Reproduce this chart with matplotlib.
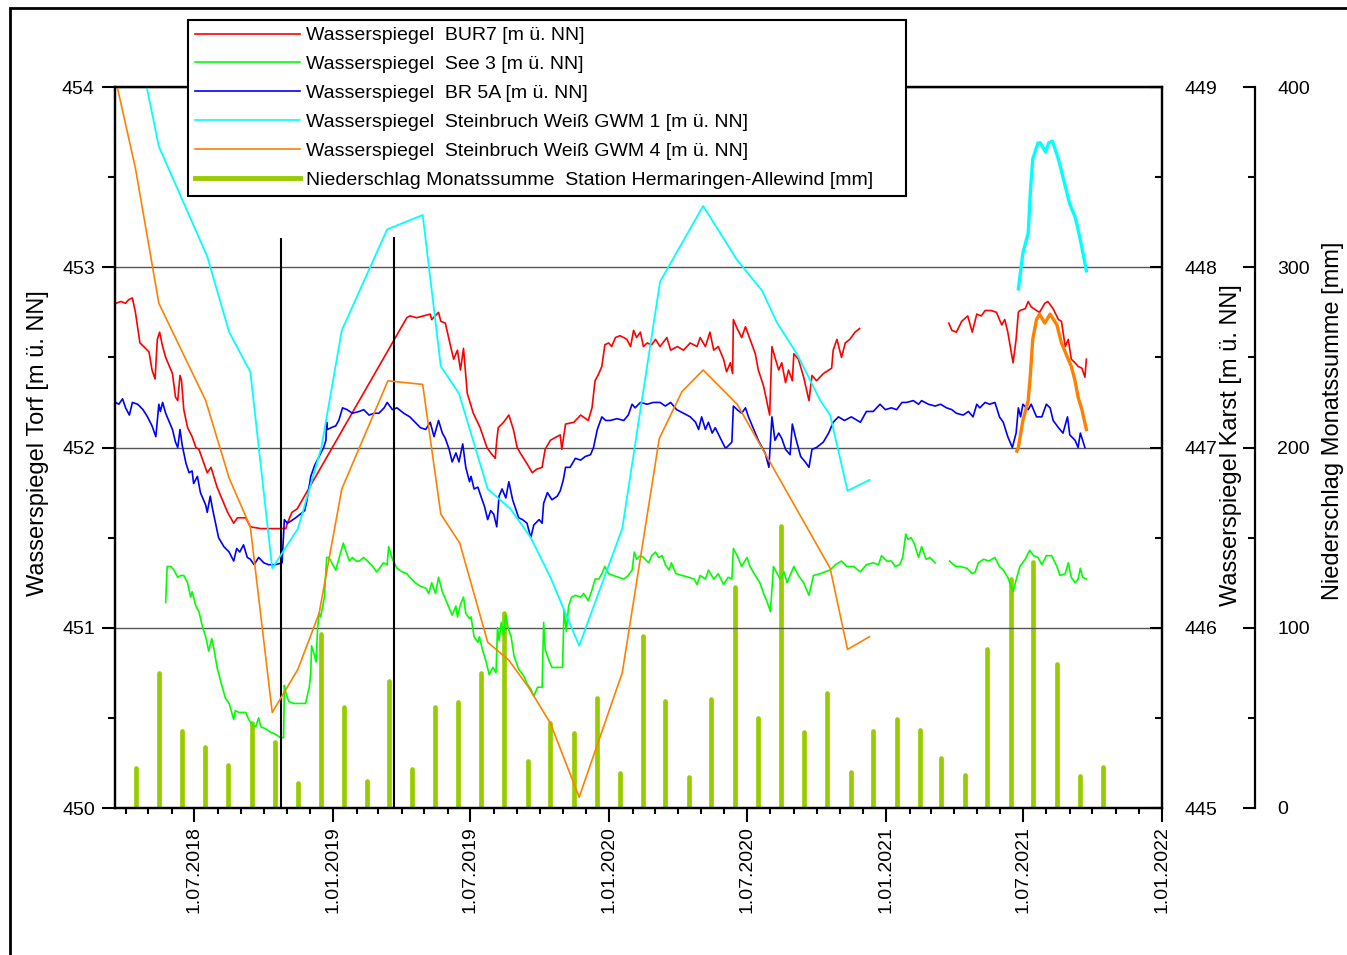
import numpy as np
import pandas as pd
import matplotlib
matplotlib.use("Agg")
import matplotlib.pyplot as plt
import matplotlib.dates as mdates
from matplotlib.lines import Line2D
from matplotlib.patches import Rectangle
from matplotlib.ticker import MultipleLocator, FuncFormatter

plt.rcParams['font.family'] = ['Liberation Sans', 'DejaVu Sans']

# ---------------- data ----------------
bur7 = [('2018-03-19',452.80),('2018-03-26',452.81),('2018-04-01',452.80),('2018-04-05',452.82),('2018-04-10',452.83),
 ('2018-04-14',452.75),('2018-04-20',452.58),('2018-04-25',452.56),('2018-05-02',452.53),('2018-05-06',452.43),
 ('2018-05-10',452.38),('2018-05-13',452.60),('2018-05-16',452.64),('2018-05-20',452.56),('2018-05-24',452.50),
 ('2018-05-29',452.45),('2018-06-02',452.41),('2018-06-06',452.28),('2018-06-09',452.26),('2018-06-12',452.40),
 ('2018-06-14',452.37),('2018-06-17',452.21),('2018-06-22',452.11),('2018-06-28',452.06),('2018-07-03',452.00),
 ('2018-07-07',451.99),('2018-07-18',451.86),('2018-07-23',451.89),('2018-07-31',451.78),('2018-08-09',451.69),
 ('2018-08-14',451.64),('2018-08-22',451.58),('2018-08-27',451.61),('2018-09-07',451.61),('2018-09-13',451.56),
 ('2018-09-27',451.55),('2018-10-10',451.55),('2018-10-23',451.55),('2018-10-30',451.55),('2018-11-01',451.58),
 ('2018-11-07',451.64),('2018-11-14',451.66),
 ('2019-04-08',452.72),('2019-04-12',452.73),('2019-04-21',452.72),('2019-04-30',452.73),('2019-05-09',452.74),
 ('2019-05-11',452.71),('2019-05-20',452.75),('2019-05-23',452.70),('2019-05-29',452.69),('2019-06-05',452.56),
 ('2019-06-09',452.49),('2019-06-14',452.54),('2019-06-18',452.43),('2019-06-22',452.55),('2019-06-27',452.30),
 ('2019-07-05',452.19),('2019-07-14',452.11),('2019-07-23',452.00),('2019-07-28',451.97),('2019-08-03',451.94),
 ('2019-08-05',452.04),('2019-08-07',452.11),('2019-08-14',452.14),('2019-08-21',452.18),('2019-08-27',452.10),
 ('2019-09-01',452.00),('2019-09-05',451.97),('2019-09-14',451.91),('2019-09-21',451.86),('2019-09-27',451.88),
 ('2019-10-04',451.89),('2019-10-08',451.99),('2019-10-15',452.04),('2019-10-19',452.05),('2019-10-28',452.07),
 ('2019-10-30',451.99),('2019-11-04',452.13),('2019-11-15',452.14),('2019-11-24',452.18),('2019-12-04',452.15),
 ('2019-12-09',452.22),('2019-12-13',452.37),('2019-12-18',452.41),('2019-12-22',452.45),('2019-12-26',452.57),
 ('2019-12-31',452.58),('2020-01-04',452.56),('2020-01-09',452.61),('2020-01-15',452.62),('2020-01-20',452.61),
 ('2020-01-24',452.60),('2020-01-29',452.56),('2020-02-02',452.65),('2020-02-06',452.61),('2020-02-11',452.64),
 ('2020-02-15',452.56),('2020-02-20',452.58),('2020-02-26',452.57),('2020-03-02',452.60),('2020-03-08',452.56),
 ('2020-03-17',452.61),('2020-03-22',452.54),('2020-03-31',452.56),('2020-04-08',452.54),('2020-04-17',452.58),
 ('2020-04-26',452.56),('2020-04-30',452.61),('2020-05-07',452.56),('2020-05-13',452.64),('2020-05-18',452.54),
 ('2020-05-24',452.56),('2020-05-31',452.49),('2020-06-04',452.42),('2020-06-09',452.47),('2020-06-12',452.41),
 ('2020-06-13',452.71),('2020-06-18',452.66),('2020-06-24',452.61),('2020-06-29',452.67),('2020-07-05',452.60),
 ('2020-07-12',452.52),('2020-07-16',452.43),('2020-07-23',452.34),('2020-07-27',452.26),('2020-07-31',452.18),
 ('2020-08-03',452.56),('2020-08-07',452.50),('2020-08-12',452.43),('2020-08-16',452.47),('2020-08-21',452.36),
 ('2020-08-25',452.43),('2020-08-30',452.37),('2020-09-01',452.52),('2020-09-07',452.49),('2020-09-14',452.39),
 ('2020-09-21',452.26),('2020-09-25',452.40),('2020-10-01',452.37),('2020-10-10',452.41),('2020-10-21',452.44),
 ('2020-10-23',452.54),('2020-10-28',452.60),('2020-11-03',452.50),('2020-11-08',452.58),('2020-11-14',452.60),
 ('2020-11-21',452.64),('2020-11-27',452.66),
 ('2021-01-15',None),
 ('2021-03-25',452.69),('2021-03-29',452.65),('2021-04-04',452.64),('2021-04-11',452.70),('2021-04-19',452.73),
 ('2021-04-25',452.64),('2021-05-01',452.74),('2021-05-07',452.73),('2021-05-12',452.76),('2021-05-20',452.76),
 ('2021-05-27',452.75),('2021-06-03',452.68),('2021-06-07',452.71),('2021-06-11',452.64),('2021-06-16',452.52),
 ('2021-06-18',452.47),('2021-06-22',452.60),('2021-06-25',452.75),('2021-06-27',452.76),('2021-07-04',452.77),
 ('2021-07-08',452.81),('2021-07-12',452.78),('2021-07-19',452.76),('2021-07-23',452.75),('2021-07-30',452.80),
 ('2021-08-03',452.81),('2021-08-10',452.77),('2021-08-17',452.71),('2021-08-21',452.70),('2021-08-26',452.56),
 ('2021-08-30',452.60),('2021-09-03',452.49),('2021-09-08',452.47),('2021-09-12',452.45),('2021-09-17',452.44),
 ('2021-09-21',452.39),('2021-09-23',452.49)]

see3 = [('2018-05-24',451.14),('2018-05-26',451.34),('2018-05-31',451.34),('2018-06-04',451.32),('2018-06-09',451.28),
 ('2018-06-13',451.29),('2018-06-17',451.29),('2018-06-22',451.25),('2018-06-26',451.17),('2018-06-28',451.20),
 ('2018-07-03',451.12),('2018-07-07',451.09),('2018-07-12',451.00),('2018-07-16',450.95),('2018-07-20',450.87),
 ('2018-07-24',450.94),('2018-07-27',450.88),('2018-07-31',450.78),('2018-08-05',450.70),('2018-08-11',450.61),
 ('2018-08-16',450.58),('2018-08-20',450.52),('2018-08-22',450.49),('2018-08-24',450.54),('2018-08-29',450.53),
 ('2018-09-02',450.53),('2018-09-07',450.53),('2018-09-11',450.49),('2018-09-16',450.46),('2018-09-20',450.45),
 ('2018-09-24',450.50),('2018-09-27',450.45),('2018-10-03',450.44),('2018-10-10',450.42),('2018-10-16',450.41),
 ('2018-10-23',450.39),('2018-10-27',450.39),('2018-10-28',450.68),('2018-10-30',450.64),('2018-11-03',450.59),
 ('2018-11-10',450.58),('2018-11-19',450.58),('2018-11-25',450.58),('2018-11-30',450.67),('2018-12-02',450.75),
 ('2018-12-03',450.90),('2018-12-06',450.86),('2018-12-09',450.81),('2018-12-11',451.00),('2018-12-13',451.08),
 ('2018-12-15',451.06),('2018-12-20',451.17),('2018-12-23',451.39),('2018-12-26',451.39),('2018-12-31',451.35),
 ('2019-01-04',451.32),('2019-01-08',451.38),('2019-01-14',451.47),('2019-01-17',451.43),('2019-01-22',451.37),
 ('2019-01-26',451.39),('2019-01-31',451.37),('2019-02-04',451.37),('2019-02-10',451.39),('2019-02-15',451.37),
 ('2019-02-22',451.34),('2019-02-27',451.31),('2019-03-03',451.33),('2019-03-08',451.36),('2019-03-13',451.35),
 ('2019-03-15',451.45),('2019-03-20',451.38),('2019-03-26',451.33),('2019-04-02',451.31),('2019-04-08',451.30),
 ('2019-04-12',451.28),('2019-04-19',451.25),('2019-04-26',451.23),('2019-05-03',451.22),('2019-05-07',451.19),
 ('2019-05-11',451.25),('2019-05-16',451.19),('2019-05-20',451.28),('2019-05-25',451.20),('2019-05-31',451.14),
 ('2019-06-07',451.07),('2019-06-12',451.12),('2019-06-14',451.06),('2019-06-18',451.13),('2019-06-22',451.17),
 ('2019-06-25',451.08),('2019-06-30',451.05),('2019-07-02',451.06),('2019-07-06',450.95),('2019-07-11',450.92),
 ('2019-07-13',450.95),('2019-07-17',450.88),('2019-07-22',450.81),('2019-07-26',450.74),('2019-07-31',450.78),
 ('2019-08-04',450.75),('2019-08-06',451.00),('2019-08-08',450.93),('2019-08-11',451.03),('2019-08-14',450.96),
 ('2019-08-17',451.07),('2019-08-20',451.00),('2019-08-24',450.95),('2019-08-28',450.84),('2019-09-03',450.77),
 ('2019-09-10',450.73),('2019-09-14',450.69),('2019-09-19',450.66),('2019-09-23',450.62),('2019-09-28',450.67),
 ('2019-10-04',450.67),('2019-10-06',451.03),('2019-10-08',450.88),('2019-10-13',450.82),('2019-10-17',450.78),
 ('2019-10-22',450.78),('2019-10-26',450.78),('2019-10-31',450.78),('2019-11-02',451.10),('2019-11-05',450.98),
 ('2019-11-08',451.12),('2019-11-12',451.17),('2019-11-17',451.18),('2019-11-24',451.17),('2019-11-28',451.19),
 ('2019-12-04',451.15),('2019-12-09',451.21),('2019-12-13',451.27),('2019-12-18',451.27),('2019-12-22',451.30),
 ('2019-12-26',451.34),('2019-12-31',451.30),('2020-01-06',451.29),('2020-01-13',451.28),('2020-01-20',451.27),
 ('2020-01-26',451.29),('2020-01-31',451.32),('2020-02-03',451.42),('2020-02-06',451.38),('2020-02-11',451.40),
 ('2020-02-15',451.39),('2020-02-22',451.36),('2020-02-26',451.40),('2020-03-02',451.42),('2020-03-06',451.39),
 ('2020-03-11',451.40),('2020-03-15',451.35),('2020-03-20',451.32),('2020-03-23',451.36),('2020-03-29',451.30),
 ('2020-04-06',451.29),('2020-04-15',451.28),('2020-04-22',451.27),('2020-04-26',451.24),('2020-04-30',451.29),
 ('2020-05-07',451.27),('2020-05-11',451.32),('2020-05-18',451.27),('2020-05-24',451.30),('2020-05-31',451.24),
 ('2020-06-06',451.28),('2020-06-11',451.27),('2020-06-13',451.44),('2020-06-18',451.40),('2020-06-24',451.34),
 ('2020-07-01',451.39),('2020-07-05',451.34),('2020-07-12',451.29),('2020-07-18',451.25),('2020-07-23',451.19),
 ('2020-07-27',451.15),('2020-08-01',451.09),('2020-08-05',451.34),('2020-08-10',451.30),('2020-08-14',451.27),
 ('2020-08-19',451.31),('2020-08-23',451.25),('2020-09-01',451.34),('2020-09-07',451.29),('2020-09-14',451.25),
 ('2020-09-21',451.18),('2020-09-27',451.29),('2020-10-06',451.30),('2020-10-12',451.31),('2020-10-19',451.32),
 ('2020-10-26',451.35),('2020-11-03',451.37),('2020-11-10',451.34),('2020-11-19',451.34),('2020-11-28',451.31),
 ('2020-12-06',451.35),('2020-12-15',451.36),('2020-12-22',451.35),('2020-12-26',451.40),('2021-01-02',451.37),
 ('2021-01-08',451.37),('2021-01-13',451.34),('2021-01-19',451.35),('2021-01-23',451.39),('2021-01-27',451.52),
 ('2021-01-30',451.49),('2021-02-03',451.50),('2021-02-07',451.47),('2021-02-13',451.39),('2021-02-17',451.45),
 ('2021-02-23',451.38),('2021-02-28',451.39),('2021-03-07',451.36),
 ('2021-03-16',None),
 ('2021-03-26',451.37),('2021-04-03',451.34),('2021-04-09',451.34),('2021-04-18',451.33),('2021-04-25',451.30),
 ('2021-04-29',451.31),('2021-05-03',451.36),('2021-05-10',451.38),('2021-05-17',451.37),('2021-05-25',451.39),
 ('2021-05-31',451.34),('2021-06-05',451.32),('2021-06-11',451.28),('2021-06-18',451.20),('2021-06-23',451.28),
 ('2021-06-27',451.34),('2021-07-04',451.38),('2021-07-10',451.43),('2021-07-15',451.40),('2021-07-21',451.39),
 ('2021-07-26',451.35),('2021-08-01',451.40),('2021-08-08',451.40),('2021-08-15',451.34),('2021-08-19',451.29),
 ('2021-08-26',451.30),('2021-08-30',451.36),('2021-09-03',451.28),('2021-09-08',451.25),('2021-09-12',451.27),
 ('2021-09-15',451.33),('2021-09-18',451.28),('2021-09-23',451.27)]

br5a = [('2018-03-19',452.25),('2018-03-23',452.24),('2018-03-28',452.27),('2018-04-01',452.22),('2018-04-06',452.18),
 ('2018-04-10',452.25),('2018-04-17',452.24),('2018-04-24',452.21),('2018-04-30',452.17),('2018-05-06',452.12),
 ('2018-05-11',452.06),('2018-05-15',452.24),('2018-05-17',452.20),('2018-05-20',452.25),('2018-05-24',452.19),
 ('2018-05-29',452.14),('2018-06-02',452.10),('2018-06-06',452.03),('2018-06-09',452.00),('2018-06-12',452.10),
 ('2018-06-15',452.01),('2018-06-20',451.91),('2018-06-24',451.86),('2018-06-28',451.87),('2018-06-30',451.80),
 ('2018-07-05',451.84),('2018-07-09',451.75),('2018-07-16',451.68),('2018-07-18',451.64),('2018-07-22',451.73),
 ('2018-07-25',451.66),('2018-07-29',451.58),('2018-08-02',451.50),('2018-08-09',451.45),('2018-08-16',451.42),
 ('2018-08-22',451.37),('2018-08-26',451.44),('2018-08-30',451.42),('2018-09-04',451.46),('2018-09-09',451.39),
 ('2018-09-13',451.38),('2018-09-18',451.35),('2018-09-24',451.39),('2018-10-01',451.36),('2018-10-07',451.35),
 ('2018-10-16',451.35),('2018-10-25',451.36),('2018-10-28',451.60),('2018-11-01',451.58),('2018-11-05',451.59),
 ('2018-11-12',451.61),('2018-11-18',451.63),('2018-11-24',451.65),('2018-11-27',451.71),('2018-12-02',451.84),
 ('2018-12-07',451.90),('2018-12-13',451.95),('2018-12-19',452.00),('2018-12-22',452.04),('2018-12-23',452.14),
 ('2018-12-24',452.10),('2018-12-29',452.11),('2019-01-04',452.12),('2019-01-08',452.15),('2019-01-13',452.22),
 ('2019-01-19',452.21),('2019-01-26',452.19),('2019-02-04',452.20),('2019-02-10',452.21),('2019-02-17',452.18),
 ('2019-02-24',452.19),('2019-03-02',452.19),('2019-03-09',452.22),('2019-03-13',452.25),('2019-03-20',452.21),
 ('2019-03-26',452.22),('2019-04-04',452.19),('2019-04-12',452.17),('2019-04-19',452.14),('2019-04-26',452.11),
 ('2019-05-03',452.10),('2019-05-09',452.14),('2019-05-14',452.06),('2019-05-20',452.15),('2019-05-25',452.08),
 ('2019-05-29',452.05),('2019-06-03',451.99),('2019-06-07',451.92),('2019-06-12',451.97),('2019-06-16',451.92),
 ('2019-06-21',452.02),('2019-06-25',451.89),('2019-06-30',451.81),('2019-07-02',451.84),('2019-07-06',451.77),
 ('2019-07-11',451.78),('2019-07-15',451.73),('2019-07-20',451.67),('2019-07-24',451.60),('2019-07-28',451.65),
 ('2019-08-01',451.63),('2019-08-05',451.56),('2019-08-08',451.73),('2019-08-12',451.77),('2019-08-17',451.72),
 ('2019-08-21',451.81),('2019-08-26',451.71),('2019-08-30',451.66),('2019-09-03',451.61),('2019-09-08',451.60),
 ('2019-09-14',451.58),('2019-09-19',451.50),('2019-09-23',451.57),('2019-09-30',451.60),('2019-10-04',451.58),
 ('2019-10-06',451.69),('2019-10-11',451.75),('2019-10-17',451.71),('2019-10-24',451.73),('2019-10-28',451.76),
 ('2019-11-01',451.82),('2019-11-04',451.89),('2019-11-10',451.89),('2019-11-17',451.94),('2019-11-24',451.93),
 ('2019-11-30',451.95),('2019-12-07',451.96),('2019-12-11',452.00),('2019-12-16',452.10),('2019-12-22',452.17),
 ('2019-12-27',452.15),('2020-01-02',452.15),('2020-01-11',452.16),('2020-01-20',452.15),('2020-01-26',452.18),
 ('2020-01-31',452.24),('2020-02-04',452.22),('2020-02-11',452.25),('2020-02-20',452.24),('2020-02-28',452.25),
 ('2020-03-08',452.25),('2020-03-15',452.23),('2020-03-22',452.25),('2020-03-30',452.21),('2020-04-08',452.19),
 ('2020-04-17',452.17),('2020-04-24',452.14),('2020-04-28',452.10),('2020-05-02',452.17),('2020-05-07',452.10),
 ('2020-05-11',452.14),('2020-05-16',452.08),('2020-05-20',452.11),('2020-05-27',452.05),('2020-06-02',452.00),
 ('2020-06-04',452.00),('2020-06-11',452.03),('2020-06-13',452.23),('2020-06-18',452.21),('2020-06-24',452.19),
 ('2020-06-29',452.22),('2020-07-03',452.17),('2020-07-10',452.10),('2020-07-16',452.04),('2020-07-21',452.00),
 ('2020-07-25',451.97),('2020-07-30',451.89),('2020-08-03',452.17),('2020-08-07',452.04),('2020-08-12',452.08),
 ('2020-08-16',452.05),('2020-08-21',451.99),('2020-08-27',451.96),('2020-08-30',452.13),('2020-09-03',452.06),
 ('2020-09-10',451.95),('2020-09-16',451.92),('2020-09-21',451.89),('2020-09-25',451.99),('2020-10-01',452.00),
 ('2020-10-10',452.03),('2020-10-17',452.08),('2020-10-23',452.14),('2020-10-30',452.17),('2020-11-07',452.15),
 ('2020-11-16',452.17),('2020-11-28',452.14),('2020-12-06',452.20),('2020-12-15',452.20),('2020-12-24',452.24),
 ('2020-12-31',452.21),('2021-01-08',452.22),('2021-01-15',452.21),('2021-01-22',452.25),('2021-01-28',452.25),
 ('2021-02-06',452.26),('2021-02-13',452.24),('2021-02-17',452.26),('2021-02-26',452.24),('2021-03-07',452.23),
 ('2021-03-14',452.24),('2021-03-22',452.22),('2021-03-29',452.21),('2021-04-04',452.19),('2021-04-13',452.18),
 ('2021-04-20',452.20),('2021-04-26',452.17),('2021-05-01',452.24),('2021-05-05',452.22),('2021-05-12',452.25),
 ('2021-05-18',452.24),('2021-05-25',452.25),('2021-05-31',452.17),('2021-06-05',452.14),('2021-06-11',452.06),
 ('2021-06-17',452.00),('2021-06-22',452.08),('2021-06-25',452.22),('2021-06-28',452.17),('2021-07-01',452.24),
 ('2021-07-08',452.21),('2021-07-12',452.24),('2021-07-19',452.17),('2021-07-26',452.17),('2021-08-01',452.24),
 ('2021-08-06',452.22),('2021-08-10',452.15),('2021-08-17',452.11),('2021-08-23',452.08),('2021-08-29',452.17),
 ('2021-09-01',452.07),('2021-09-08',452.04),('2021-09-12',452.00),('2021-09-15',452.08),('2021-09-21',452.00)]

gwm1 = [('2018-04-29',449.00),('2018-05-15',448.67),('2018-07-18',448.06),('2018-08-16',447.64),('2018-09-13',447.42),
 ('2018-10-12',446.33),('2018-11-15',446.55),('2018-12-16',447.00),('2019-01-12',447.65),('2019-03-13',448.21),
 ('2019-04-29',448.29),('2019-05-23',447.45),('2019-06-16',447.30),('2019-07-24',446.77),('2019-08-23',446.66),
 ('2019-09-19',446.50),('2019-10-15',446.28),('2019-11-22',445.90),('2020-01-18',446.55),('2020-03-08',447.92),
 ('2020-05-04',448.34),('2020-06-18',448.04),('2020-07-21',447.87),('2020-08-10',447.69),('2020-09-05',447.52),
 ('2020-10-06',447.26),('2020-10-19',447.18),('2020-11-11',446.76),('2020-12-10',446.82)]

gwm1_2021 = [('2021-06-25',447.88),('2021-07-01',448.08),('2021-07-08',448.19),('2021-07-11',448.43),('2021-07-14',448.60),
 ('2021-07-21',448.69),('2021-07-24',448.69),('2021-07-31',448.64),('2021-08-04',448.69),('2021-08-09',448.70),
 ('2021-08-17',448.60),('2021-08-26',448.45),('2021-09-01',448.35),('2021-09-08',448.28),('2021-09-12',448.21),
 ('2021-09-17',448.11),('2021-09-23',447.98)]

gwm4 = [('2018-03-21',449.00),('2018-04-14',448.55),('2018-05-15',447.80),('2018-07-16',447.26),('2018-08-16',446.83),
 ('2018-09-13',446.56),('2018-10-12',445.53),('2018-11-15',445.77),('2018-12-13',446.08),('2019-01-12',446.77),
 ('2019-03-14',447.37),('2019-04-29',447.35),('2019-05-23',446.63),('2019-06-17',446.47),('2019-07-24',445.92),
 ('2019-08-21',445.82),('2019-09-16',445.67),('2019-10-15',445.47),('2019-11-22',445.06),('2020-01-18',445.75),
 ('2020-03-07',447.05),('2020-04-06',447.31),('2020-05-04',447.43),('2020-06-18',447.24),('2020-10-19',446.33),
 ('2020-11-11',445.88),('2020-12-10',445.95)]

gwm4_2021 = [('2021-06-23',446.98),('2021-06-25',447.00),('2021-07-01',447.15),('2021-07-08',447.26),('2021-07-11',447.41),
 ('2021-07-14',447.60),('2021-07-19',447.71),('2021-07-23',447.74),('2021-07-30',447.69),('2021-08-06',447.74),
 ('2021-08-15',447.68),('2021-08-21',447.58),('2021-08-28',447.51),('2021-09-03',447.45),('2021-09-08',447.37),
 ('2021-09-12',447.28),('2021-09-17',447.21),('2021-09-23',447.10)]

precip_months = pd.date_range('2018-04-01', periods=43, freq='MS') + pd.Timedelta(days=14)
precip_mm = [22.0, 74.7, 42.9, 34.0, 23.9, 47.0, 36.8, 14.0, 96.4,
             56.2, 15.0, 70.5, 21.5, 55.9, 59.0, 74.7, 108.0, 26.3, 47.3, 41.4, 61.2,
             19.2, 95.6, 59.4, 17.0, 60.5, 122.4, 49.8, 156.6, 42.3, 63.6, 20.0, 42.7,
             49.6, 43.1, 27.6, 18.3, 88.0, 126.9, 136.3, 79.9, 17.8, 22.9]

marker_dates = ['2018-10-23', '2019-03-22']
marker_top = [453.16, 453.17]

labels = ['Wasserspiegel  BUR7 [m ü. NN]',
          'Wasserspiegel  See 3 [m ü. NN]',
          'Wasserspiegel  BR 5A [m ü. NN]',
          'Wasserspiegel  Steinbruch Weiß GWM 1 [m ü. NN]',
          'Wasserspiegel  Steinbruch Weiß GWM 4 [m ü. NN]',
          'Niederschlag Monatssumme  Station Hermaringen-Allewind [mm]']


def series(pairs):
    d = pd.to_datetime([p[0] for p in pairs])
    v = np.array([np.nan if p[1] is None else p[1] for p in pairs], dtype=float)
    return d, v


C_RED, C_GREEN, C_BLUE, C_CYAN, C_ORANGE, C_RAIN = '#FF0000', '#00FF00', '#0000FF', '#00FFFF', '#FF8000', '#99CC00'

W, H = 1347, 955
fig = plt.figure(figsize=(W / 100, H / 100), dpi=100)
L, R, T, B = 115, 1162, 87, 808
ax = fig.add_axes([L / W, 1 - B / H, (R - L) / W, (B - T) / H])
ax3 = ax.twinx()
ax2 = ax.twinx()
ax3.set_zorder(0)
ax.set_zorder(1)
ax2.set_zorder(2)
ax.patch.set_visible(False)
ax2.patch.set_visible(False)

# precipitation bars
ax3.vlines(precip_months, 0, precip_mm, color=C_RAIN, lw=3.4, capstyle='round')
ax3.set_ylim(0, 400)
ax3.spines['right'].set_position(('axes', (1255 - L) / (R - L)))
for s in ['top', 'bottom', 'left']:
    ax3.spines[s].set_visible(False)
ax3.spines['right'].set_linewidth(1.6)
ax3.yaxis.set_major_locator(MultipleLocator(100))
ax3.yaxis.set_minor_locator(MultipleLocator(50))
ax3.tick_params(axis='y', which='major', direction='in', length=9, width=1.5, labelsize=14, pad=16)
ax3.tick_params(axis='y', which='minor', direction='in', length=5, width=1.5)
ax3.set_ylabel('Niederschlag Monatssumme [mm]', fontsize=17)
ax3.yaxis.set_label_coords((1322 - L) / (R - L), (B - 421) / (B - T))

# Torf axis
d, v = series(bur7)
ax.plot(d, v, color=C_RED, lw=1.2)
d, v = series(see3)
ax.plot(d, v, color=C_GREEN, lw=1.2)
d, v = series(br5a)
ax.plot(d, v, color=C_BLUE, lw=1.2)
ax.vlines(pd.to_datetime(marker_dates), 450, marker_top, color='black', lw=1.5)
ax.set_ylim(450, 454)
ax.set_xlim(pd.Timestamp('2018-03-18'), pd.Timestamp('2022-01-01'))
ax.yaxis.set_major_locator(MultipleLocator(1))
ax.yaxis.set_minor_locator(MultipleLocator(0.5))
ax.yaxis.grid(True, which='major', color='#555555', lw=1.0)
ax.set_axisbelow(True)
ax.xaxis.set_major_locator(mdates.MonthLocator(bymonth=[1, 7]))
ax.xaxis.set_minor_locator(mdates.MonthLocator())
ax.xaxis.set_major_formatter(FuncFormatter(
    lambda x, pos: (lambda t: f"{t.day}.{t.month:02d}.{t.year}")(mdates.num2date(x))))
ax.tick_params(axis='x', which='major', direction='out', length=10, width=1.5, labelsize=14,
               labelrotation=90, pad=3)
ax.tick_params(axis='x', which='minor', direction='out', length=4.5, width=1.5)
ax.tick_params(axis='y', which='major', direction='out', length=9.5, width=1.5, labelsize=14, pad=5)
ax.tick_params(axis='y', which='minor', direction='out', length=5, width=1.5)
for s in ax.spines.values():
    s.set_linewidth(1.6)
ax.set_ylabel('Wasserspiegel Torf [m ü. NN]', fontsize=17)
ax.yaxis.set_label_coords((49 - L) / (R - L), (B - 443) / (B - T))

# Karst axis
d, v = series(gwm1)
ax2.plot(d, v, color=C_CYAN, lw=1.3)
d, v = series(gwm4)
ax2.plot(d, v, color=C_ORANGE, lw=1.2)
d, v = series(gwm1_2021)
ax2.plot(d, v, color=C_CYAN, lw=2.4)
d, v = series(gwm4_2021)
ax2.plot(d, v, color=C_ORANGE, lw=2.4)
ax2.set_ylim(445, 449)
ax2.yaxis.set_major_locator(MultipleLocator(1))
ax2.yaxis.set_minor_locator(MultipleLocator(0.5))
ax2.tick_params(axis='y', which='major', direction='in', length=9, width=1.5, labelsize=14, pad=16)
ax2.tick_params(axis='y', which='minor', direction='in', length=5, width=1.5)
for s in ax2.spines.values():
    s.set_linewidth(1.6)
ax2.set_ylabel('Wasserspiegel Karst [m ü. NN]', fontsize=17)
ax2.yaxis.set_label_coords((1220 - L) / (R - L), (B - 445) / (B - T))

# legend
handles = [Line2D([], [], color=C_RED, lw=1.2), Line2D([], [], color=C_GREEN, lw=1.2),
           Line2D([], [], color=C_BLUE, lw=1.2), Line2D([], [], color=C_CYAN, lw=1.2),
           Line2D([], [], color=C_ORANGE, lw=1.2), Line2D([], [], color=C_RAIN, lw=3.5)]
leg = fig.legend(handles, labels, loc='upper left',
                 bbox_to_anchor=(188 / W, 1 - 192 / H, (906 - 188) / W, 172 / H),
                 mode='expand', fontsize=14, handlelength=5.4, handletextpad=0.3,
                 borderpad=0.35, labelspacing=0.58, borderaxespad=0, fancybox=False,
                 framealpha=1, edgecolor='black')
leg.get_frame().set_linewidth(1.5)

# outer frame
fig.add_artist(Rectangle((10 / W, -0.5), 2, (1 - 8 / H) + 0.5, transform=fig.transFigure,
                         fill=False, lw=2, ec='black', clip_on=False))

fig.savefig('out.png', dpi=100)
